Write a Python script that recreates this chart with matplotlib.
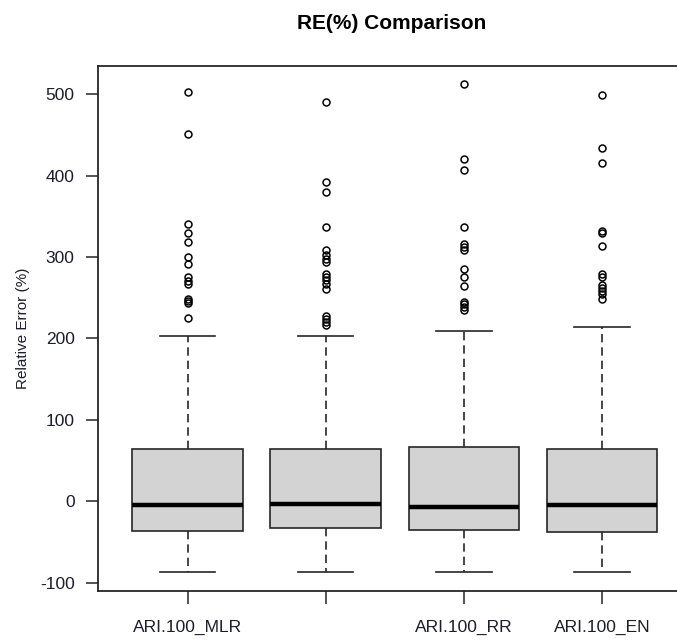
import matplotlib
matplotlib.use('Agg')
import matplotlib.pyplot as plt

plt.rcParams['font.family'] = ['Liberation Sans', 'DejaVu Sans']
plt.rcParams['axes.unicode_minus'] = False

# Box summary for each model (relative error, %)
models = ["ARI.100_MLR", "ARI.100_RIDGE", "ARI.100_RR", "ARI.100_EN"]
tick_labels = ["ARI.100_MLR", "", "ARI.100_RR", "ARI.100_EN"]
q1 = [-36.5, -33, -36, -38]
med = [-5, -3, -7, -5]
q3 = [64, 64, 67, 64]
whislo = [-87, -87, -87, -87]
whishi = [203, 203, 209, 214]

# Outlying points above the upper whisker
fliers_mlr = [503, 451, 341, 329, 319, 300, 291, 275, 271, 267, 249, 246, 243, 225]
fliers_ridge = [490, 392, 380, 337, 308, 303, 298, 294, 279, 276, 272, 267, 261,
                228, 224, 220, 216]
fliers_rr = [512, 420, 407, 337, 316, 312, 309, 285, 275, 264, 245, 242, 238, 235]
fliers_en = [499, 434, 416, 332, 329, 313, 279, 276, 266, 262, 258, 254, 248]
fliers = [fliers_mlr, fliers_ridge, fliers_rr, fliers_en]

stats = []
for i, name in enumerate(models):
    stats.append({
        "label": name, "q1": q1[i], "med": med[i], "q3": q3[i],
        "whislo": whislo[i], "whishi": whishi[i], "fliers": fliers[i],
    })

fig = plt.figure(figsize=(6.77, 6.4), dpi=100)
ax = fig.add_axes([0.1452, 0.077, 0.876, 0.8203])

edge = "#262626"
ax.bxp(stats, positions=range(1, 5), widths=0.8, patch_artist=True,
       showfliers=True,
       boxprops=dict(facecolor="#d3d3d3", edgecolor=edge, linewidth=1.2),
       medianprops=dict(color="black", linewidth=3.2, solid_capstyle="butt"),
       whiskerprops=dict(color=edge, linewidth=1.2, linestyle=(0, (5, 3))),
       capprops=dict(color=edge, linewidth=1.2),
       capwidths=0.4,
       flierprops=dict(marker="o", markersize=5, markerfacecolor="none",
                       markeredgecolor="black", markeredgewidth=1.1))

ax.set_xlim(0.354, 4.646)
ax.set_ylim(-110, 535)
ax.set_yticks([-100, 0, 100, 200, 300, 400, 500])
ax.set_xticks(range(1, 5))
ax.set_xticklabels(tick_labels)

# frame runs past the right edge, so only the right side is hidden
ax.spines["right"].set_visible(False)
for side in ["left", "bottom", "top"]:
    ax.spines[side].set_color(edge)
    ax.spines[side].set_linewidth(1.3)

ax.tick_params(axis="both", direction="out", length=9, width=1.1, color=edge,
               labelsize=12.5, labelcolor="#1c1c2a")
ax.tick_params(axis="y", pad=8)
ax.tick_params(axis="x", pad=12)

ax.set_ylabel("Relative Error (%)", fontsize=11, color="#1c1c2a", labelpad=7)
fig.text(0.578, 0.964, "RE(%) Comparison", ha="center", va="center",
         fontsize=15, fontweight="bold", color="black")

fig.savefig("out.png", dpi=100)
